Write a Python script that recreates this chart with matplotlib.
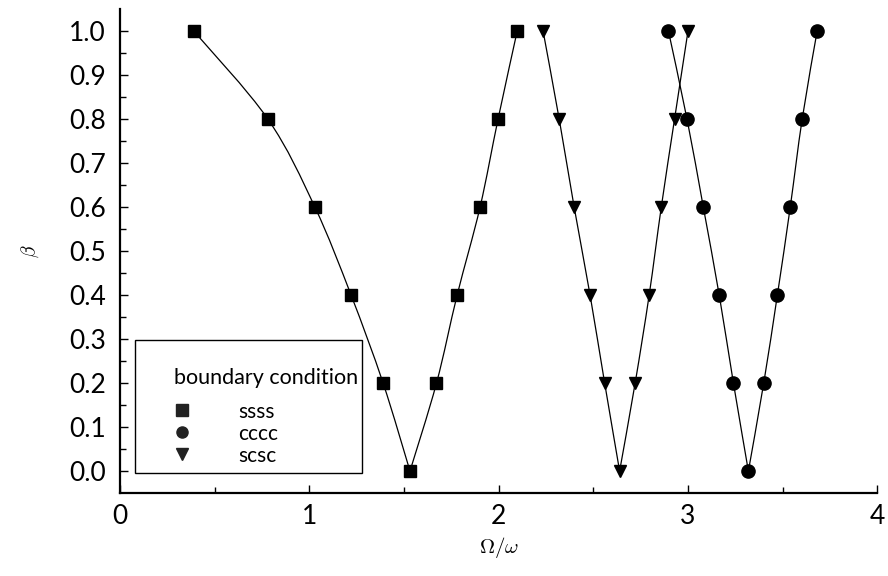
import numpy as np
import matplotlib
matplotlib.use("Agg")
import matplotlib.pyplot as plt
from matplotlib.path import Path
from matplotlib.patches import PathPatch, Rectangle
from matplotlib.lines import Line2D

plt.rcParams['font.family'] = ['Lato', 'DejaVu Sans']
plt.rcParams['mathtext.fontset'] = 'cm'

# beta levels shared by all three boundary conditions
beta = [1.0, 0.8, 0.6, 0.4, 0.2, 0.0, 0.2, 0.4, 0.6, 0.8, 1.0]

om_ssss = [0.391, 0.782, 1.030, 1.221, 1.390, 1.532, 1.672, 1.781, 1.902, 1.997, 2.098]
om_cccc = [2.897, 2.995, 3.081, 3.165, 3.240, 3.319, 3.400, 3.472, 3.540, 3.603, 3.682]
om_scsc = [2.235, 2.320, 2.399, 2.483, 2.560, 2.639, 2.721, 2.795, 2.859, 2.929, 3.000]

labels = ["ssss", "cccc", "scsc"]
markers = ["s", "o", "v"]


def smooth_path(xs, ys):
    # Catmull-Rom through the points, written as cubic Bezier segments
    p = np.column_stack([xs, ys])
    verts = [p[0]]
    codes = [Path.MOVETO]
    n = len(p)
    for i in range(n - 1):
        p0 = p[i - 1] if i > 0 else p[i]
        p1, p2 = p[i], p[i + 1]
        p3 = p[i + 2] if i + 2 < n else p[i + 1]
        c1 = p1 + (p2 - p0) / 6.0
        c2 = p2 - (p3 - p1) / 6.0
        verts += [c1, c2, p2]
        codes += [Path.CURVE4] * 3
    return Path(verts, codes)


fig = plt.figure(figsize=(8.88, 5.76), dpi=100)
ax = fig.add_axes([0.135, 0.144, 0.853, 0.840])

for om, m in zip([om_ssss, om_cccc, om_scsc], markers):
    k = int(np.argmin(beta))
    # each branch smoothed on its own so the minimum stays a sharp corner
    for xs, ys in [(om[:k + 1], beta[:k + 1]), (om[k:], beta[k:])]:
        ax.add_patch(PathPatch(smooth_path(xs, ys), facecolor='none',
                               edgecolor='black', lw=0.9))
    ax.plot(om, beta, linestyle='none', marker=m, color='black',
            markersize=9 if m != 'o' else 9.5, zorder=3)

ax.set_xlim(0, 4)
ax.set_ylim(-0.05, 1.05)
ax.set_xticks([0, 1, 2, 3, 4])
ax.set_xticks(np.arange(0.5, 4, 1.0), minor=True)
ax.set_yticks(np.arange(0, 1.01, 0.1))
ax.set_yticks(np.arange(0.05, 1.05, 0.1), minor=True)
ax.set_yticklabels(["%.1f" % v for v in np.arange(0, 1.01, 0.1)])

for s in ['top', 'right']:
    ax.spines[s].set_visible(False)
for s in ['left', 'bottom']:
    ax.spines[s].set_linewidth(1.6)
ax.tick_params(which='both', direction='in', width=1.0, labelsize=19, colors='black')
ax.tick_params(which='major', length=6)
ax.tick_params(which='minor', length=4)
ax.tick_params(axis='y', pad=10)
ax.tick_params(axis='x', pad=8)

ax.set_xlabel(r'$\Omega/\omega$', fontsize=15, labelpad=4)
ax.set_ylabel(r'$\beta$', fontsize=14, labelpad=20)

# legend: frame and title drawn separately so they can be placed freely
ax.add_patch(Rectangle((0.079, -0.004), 1.2, 0.301, transform=ax.transData,
                       facecolor='white', edgecolor='black', lw=1.0, zorder=4))
ax.text(0.285, 0.211, "boundary condition", fontsize=15.5, ha='left', va='center',
        zorder=5)
handles = [Line2D([], [], linestyle='none', marker=m, color='#222222', markersize=8)
           for m in markers]
leg = ax.legend(handles, labels, frameon=False, loc='upper left',
                bbox_to_anchor=(0.217, 0.158), bbox_transform=ax.transData,
                fontsize=15, handlelength=2.0, handletextpad=1.7,
                labelspacing=0.1, borderpad=0, borderaxespad=0)
leg.set_zorder(5)

fig.savefig("out.png", dpi=100)
